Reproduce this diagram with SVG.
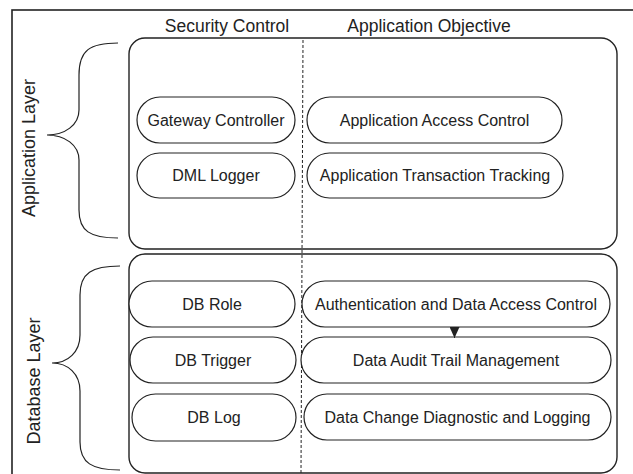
<svg xmlns="http://www.w3.org/2000/svg" width="633" height="474" viewBox="0 0 633 474">
  <style>
    .frame { fill: none; stroke: #222; stroke-width: 1.6; }
    .layer { fill: none; stroke: #222; stroke-width: 1.4; }
    .pill { fill: #fff; stroke: #222; stroke-width: 1.2; }
    .brace { fill: none; stroke: #222; stroke-width: 1.2; }
    .sep { stroke: #222; stroke-width: 1; stroke-dasharray: 3 2; }
    text { font-family: "Liberation Sans", Arial, sans-serif; fill: #222; }
    .lbl { font-size: 16px; text-anchor: middle; }
    .hdr { font-size: 17.5px; text-anchor: middle; }
    .side { font-size: 18px; text-anchor: middle; }
  </style>
  <defs>
    <marker id="tri" viewBox="0 0 11 10" refX="11" refY="5" markerWidth="11" markerHeight="10" orient="auto" markerUnits="userSpaceOnUse">
      <path d="M0,0 L11,5 L0,10 Z" fill="#222"/>
    </marker>
  </defs>
  <rect width="633" height="474" fill="#fff"/>

  <!-- outer frame -->
  <rect class="frame" x="12" y="10" width="640" height="480"/>

  <!-- column headers -->
  <text class="hdr" x="227" y="32">Security Control</text>
  <text class="hdr" x="429" y="32">Application Objective</text>

  <!-- layer containers -->
  <g id="application-layer">
    <rect class="layer" x="129" y="38" width="488" height="211" rx="16"/>
    <path class="brace" d="M118,43 C90,43 79,50 79,75 L79,110 C79,125 65,135 47,135 C65,135 79,145 79,160 L79,210 C79,231 90,238 118,238"/>
    <text class="side" transform="translate(35,148) rotate(-90)">Application Layer</text>
  </g>
  <g id="database-layer">
    <rect class="layer" x="129" y="254" width="488" height="219" rx="16"/>
    <path class="brace" d="M120,266 C92,266 80,273 80,295 L80,335 C80,352 68,363 52,363 C68,363 80,374 80,391 L80,442 C80,463 92,470 120,470"/>
    <text class="side" transform="translate(40,381) rotate(-90)">Database Layer</text>
  </g>

  <!-- column separator -->
  <line class="sep" x1="303" y1="40" x2="301" y2="473"/>

  <!-- application layer nodes -->
  <g id="gateway-controller">
    <rect class="pill" x="137" y="97" width="158" height="46" rx="23"/>
    <text class="lbl" x="216" y="126">Gateway Controller</text>
  </g>
  <g id="dml-logger">
    <rect class="pill" x="137" y="153" width="158" height="45" rx="22.5"/>
    <text class="lbl" x="216" y="181">DML Logger</text>
  </g>
  <g id="app-access-control">
    <rect class="pill" x="307" y="97" width="255" height="46" rx="23"/>
    <text class="lbl" x="434.5" y="126">Application Access Control</text>
  </g>
  <g id="app-transaction-tracking">
    <rect class="pill" x="307" y="153" width="256" height="45" rx="22.5"/>
    <text class="lbl" x="435" y="181">Application Transaction Tracking</text>
  </g>

  <!-- database layer nodes -->
  <g id="db-role">
    <rect class="pill" x="129" y="281" width="166" height="46" rx="23"/>
    <text class="lbl" x="212" y="310">DB Role</text>
  </g>
  <g id="db-trigger">
    <rect class="pill" x="130" y="337" width="166" height="46" rx="23"/>
    <text class="lbl" x="213" y="366">DB Trigger</text>
  </g>
  <g id="db-log">
    <rect class="pill" x="132" y="394" width="164" height="47" rx="23.5"/>
    <text class="lbl" x="214" y="423">DB Log</text>
  </g>
  <g id="auth-data-access">
    <rect class="pill" x="302" y="281" width="308" height="46" rx="23"/>
    <text class="lbl" x="456" y="310">Authentication and Data Access Control</text>
  </g>
  <g id="data-audit-trail">
    <rect class="pill" x="301" y="337" width="310" height="46" rx="23"/>
    <text class="lbl" x="456" y="366">Data Audit Trail Management</text>
  </g>
  <g id="data-change-logging">
    <rect class="pill" x="304" y="394" width="307" height="46" rx="23"/>
    <text class="lbl" x="457.5" y="423">Data Change Diagnostic and Logging</text>
  </g>

  <!-- connectors -->
  <g id="connectors">
    <line x1="454.5" y1="327" x2="454.5" y2="338" stroke="#222" stroke-width="1" marker-end="url(#tri)"/>
  </g>
</svg>
